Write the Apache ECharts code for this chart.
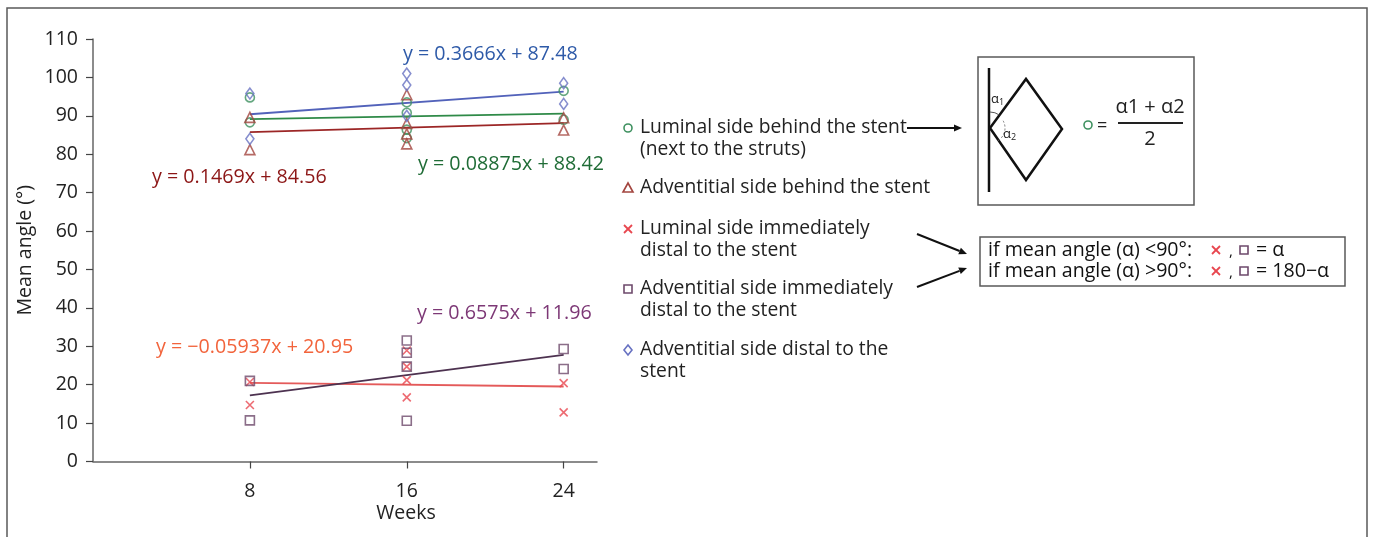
<!DOCTYPE html>
<html>
<head>
<meta charset="utf-8">
<script src="https://cdn.jsdelivr.net/npm/echarts@6/dist/echarts.min.js"></script>
<style>
html, body { margin: 0; padding: 0; background: #fff; }
#chart { width: 1376px; height: 537px; }
</style>
</head>
<body>
<div id="chart"></div>
<script>
// Weeks at which measurements were taken (x-axis ticks)
const weekTicks = [8, 16, 24];

// Mean angle (°) per measurement, as [week, value]
const luminalBehind = [[8, 94.8], [8, 88.3], [16, 93.5], [16, 90.8], [16, 86.4], [16, 84.2], [24, 96.5], [24, 89.0]];
const adventitialBehind = [[8, 89.6], [8, 81.2], [16, 95.5], [16, 88.0], [16, 85.3], [16, 82.7], [24, 89.5], [24, 86.3]];
const luminalDistal = [[8, 20.7], [8, 14.7], [16, 28.9], [16, 24.7], [16, 21.2], [16, 16.7], [24, 20.4], [24, 12.8]];
const adventitialImmDistal = [[8, 21.0], [8, 10.7], [16, 31.5], [16, 28.3], [16, 24.7], [16, 10.6], [24, 29.3], [24, 24.1]];
const adventitialDistal = [[8, 95.8], [8, 84.0], [16, 101.0], [16, 98.0], [16, 90.0], [24, 98.5], [24, 93.1]];

// Linear trend lines (y = slope * x + intercept), same order as the series
const trendSlopes = [0.08875, 0.1469, -0.05937, 0.6575, 0.3666];
const trendIntercepts = [88.42, 84.56, 20.95, 11.96, 87.48];
const trendRange = [8, 24];

const seriesNames = [
  'Luminal side behind the stent (next to the struts)',
  'Adventitial side behind the stent',
  'Luminal side immediately distal to the stent',
  'Adventitial side immediately distal to the stent',
  'Adventitial side distal to the stent'
];
const legendLines = [
  ['Luminal side behind the stent', '(next to the struts)'],
  ['Adventitial side behind the stent'],
  ['Luminal side immediately', 'distal to the stent'],
  ['Adventitial side immediately', 'distal to the stent'],
  ['Adventitial side distal to the', 'stent']
];
const seriesData = [luminalBehind, adventitialBehind, luminalDistal, adventitialImmDistal, adventitialDistal];

const FONT = '"Open Sans", "Noto Sans", sans-serif';
const markerColors = ['#3f9160', '#a3453f', '#e8464f', '#6e4a6c', '#6872c2'];
const lineColors = ['#2f8a48', '#9c2626', '#e45a5a', '#4d3250', '#5262ba'];
const eqColors = ['#1f6c36', '#8c1616', '#f2643c', '#7d3876', '#2e5aa8'];
const symbols = ['circle', 'triangle', 'path://M0,0L10,10M10,0L0,10', 'rect', 'diamond'];
const symbolSizes = [9, 10, 8, 9, [8, 11]];

function fmtNum(v) { return (v < 0 ? '\u2212' : '') + Math.abs(v); }
function eqText(i) {
  return 'y = ' + fmtNum(trendSlopes[i]) + 'x + ' + trendIntercepts[i];
}
function trendPoints(i) {
  return trendRange.map(x => [x, trendSlopes[i] * x + trendIntercepts[i]]);
}

// Hand-drawn legend / annotation glyphs
function glyph(kind, cx, cy, color) {
  const st = { stroke: color, fill: 'none', lineWidth: 1.6 };
  if (kind === 0) return { type: 'circle', shape: { cx: cx, cy: cy, r: 4 }, style: st };
  if (kind === 1) return { type: 'polygon', shape: { points: [[cx, cy - 5], [cx + 5, cy + 4], [cx - 5, cy + 4]] }, style: st };
  if (kind === 2) return { type: 'group', children: [
    { type: 'line', shape: { x1: cx - 4, y1: cy - 4, x2: cx + 4, y2: cy + 4 }, style: { stroke: color, lineWidth: 1.8 } },
    { type: 'line', shape: { x1: cx + 4, y1: cy - 4, x2: cx - 4, y2: cy + 4 }, style: { stroke: color, lineWidth: 1.8 } }
  ] };
  if (kind === 3) return { type: 'rect', shape: { x: cx - 4, y: cy - 4, width: 8, height: 8 }, style: st };
  return { type: 'polygon', shape: { points: [[cx, cy - 5], [cx + 4, cy], [cx, cy + 5], [cx - 4, cy]] }, style: st };
}

function arrow(x1, y1, x2, y2) {
  const dx = x2 - x1, dy = y2 - y1, len = Math.sqrt(dx * dx + dy * dy);
  const ux = dx / len, uy = dy / len, hl = 8, hw = 3.5;
  const bx = x2 - ux * hl, by = y2 - uy * hl;
  return { type: 'group', children: [
    { type: 'line', shape: { x1: x1, y1: y1, x2: bx, y2: by }, style: { stroke: '#111', lineWidth: 2 } },
    { type: 'polygon', shape: { points: [[x2, y2], [bx - uy * hw, by + ux * hw], [bx + uy * hw, by - ux * hw]] }, style: { fill: '#111' } }
  ] };
}

function txt(x, y, text, size, color, align, extra) {
  return Object.assign({
    type: 'text', x: x, y: y,
    style: { text: text, fontFamily: FONT, fontSize: size, fill: color || '#222', align: align || 'left', verticalAlign: 'middle' }
  }, extra || {});
}

const graphics = [];

// outer figure frame
graphics.push({ type: 'rect', shape: { x: 7, y: 8, width: 1360, height: 540 }, style: { stroke: '#5a5a5a', fill: 'none', lineWidth: 1.5 } });

// x-axis title under the 16-week tick
graphics.push(txt(406, 513, 'Weeks', 19.5, '#222', 'center'));

// regression equations
const eqPos = [[418, 164], [152, 177], [156, 347], [417, 313], [403, 54]];
for (let i = 0; i < 5; i++) {
  graphics.push(txt(eqPos[i][0], eqPos[i][1], eqText(i), 19.7, eqColors[i]));
}

// legend
const legendTop = [128, 188, 229, 289, 350];
for (let i = 0; i < 5; i++) {
  graphics.push(glyph(i, 628, legendTop[i], markerColors[i]));
  legendLines[i].forEach((line, k) => {
    graphics.push(txt(640, legendTop[i] + k * 22, line, 19.3, '#222'));
  });
}

// arrows
graphics.push(arrow(907, 128, 962, 128));
graphics.push(arrow(917, 234, 967, 254));
graphics.push(arrow(917, 287, 967, 268));

// strut angle diagram
graphics.push({ type: 'rect', shape: { x: 978, y: 57, width: 216, height: 148 }, style: { stroke: '#5a5a5a', fill: 'none', lineWidth: 1.5 } });
graphics.push({ type: 'line', shape: { x1: 989, y1: 68, x2: 989, y2: 192 }, style: { stroke: '#111', lineWidth: 2.5 } });
graphics.push({ type: 'polygon', shape: { points: [[990, 128], [1026, 79], [1062, 129], [1026, 180]] }, style: { stroke: '#111', fill: 'none', lineWidth: 2.5 } });
graphics.push({ type: 'arc', shape: { cx: 990, cy: 128, r: 16, startAngle: -Math.PI / 2, endAngle: -0.95, clockwise: true }, style: { stroke: '#555', fill: 'none', lineWidth: 1 } });
graphics.push({ type: 'arc', shape: { cx: 990, cy: 128, r: 15, startAngle: -0.5, endAngle: 1.1, clockwise: true }, style: { stroke: '#777', fill: 'none', lineWidth: 1, lineDash: [2, 2] } });
const alphaRich = { a: { fontSize: 13, fontFamily: FONT, fill: '#222' }, s: { fontSize: 9, fontFamily: FONT, fill: '#222', padding: [7, 0, 0, 0] } };
graphics.push({ type: 'text', x: 991, y: 99, style: { text: '{a|α}{s|1}', rich: alphaRich, verticalAlign: 'middle' } });
graphics.push({ type: 'text', x: 1003, y: 134, style: { text: '{a|α}{s|2}', rich: alphaRich, verticalAlign: 'middle' } });
graphics.push(glyph(0, 1088, 125, markerColors[0]));
graphics.push(txt(1097, 126, '=', 18, '#222'));
graphics.push(txt(1150, 107, 'α1 + α2', 20, '#222', 'center'));
graphics.push({ type: 'line', shape: { x1: 1118, y1: 123, x2: 1183, y2: 123 }, style: { stroke: '#222', lineWidth: 2 } });
graphics.push(txt(1150, 139, '2', 20, '#222', 'center'));

// rule box for distal measurements
graphics.push({ type: 'rect', shape: { x: 980, y: 237, width: 365, height: 49 }, style: { stroke: '#5a5a5a', fill: 'none', lineWidth: 1.5 } });
const ruleRows = [['if mean angle (α) <90°:', '= α', 250], ['if mean angle (α) >90°:', '= 180\u2212α', 271]];
ruleRows.forEach(r => {
  graphics.push(txt(988, r[2], r[0], 19.6, '#111'));
  graphics.push(glyph(2, 1216, r[2], markerColors[2]));
  graphics.push(txt(1229, r[2] + 2, ',', 15, '#111'));
  graphics.push(glyph(3, 1244, r[2], markerColors[3]));
  graphics.push(txt(1256, r[2], r[1], 19.6, '#111'));
});

const series = [];
for (let i = 0; i < 5; i++) {
  series.push({
    name: seriesNames[i],
    type: 'line',
    data: trendPoints(i),
    symbol: 'none',
    silent: true,
    lineStyle: { color: lineColors[i], width: 1.8 },
    z: 2
  });
}
for (let i = 0; i < 5; i++) {
  series.push({
    name: seriesNames[i],
    type: 'scatter',
    data: seriesData[i],
    symbol: symbols[i],
    symbolSize: symbolSizes[i],
    itemStyle: { color: 'rgba(0,0,0,0)', borderColor: markerColors[i], borderWidth: 1.6 },
    z: 3
  });
}

const chart = echarts.init(document.getElementById('chart'), null, { renderer: 'canvas' });
chart.setOption({
  animation: false,
  backgroundColor: '#fff',
  textStyle: { fontFamily: FONT },
  grid: { left: 93, top: 39, width: 504, height: 422.5, containLabel: false },
  xAxis: {
    type: 'value', min: 0, max: 25.7,
    axisLine: { show: true, onZero: false, lineStyle: { color: '#666', width: 1.5 } },
    axisTick: { show: true, customValues: weekTicks, length: 7, lineStyle: { color: '#444', width: 1.2 } },
    axisLabel: { customValues: weekTicks, margin: 20, fontSize: 19.5, color: '#222', fontFamily: FONT },
    splitLine: { show: false }
  },
  yAxis: {
    type: 'value', min: 0, max: 110, interval: 10,
    name: 'Mean angle (°)', nameLocation: 'middle', nameGap: 58,
    nameTextStyle: { fontSize: 19.5, color: '#222', fontFamily: FONT },
    axisLine: { show: true, lineStyle: { color: '#666', width: 1.5 } },
    axisTick: { show: true, length: 7, lineStyle: { color: '#444', width: 1.2 } },
    axisLabel: { margin: 15, fontSize: 19.5, color: '#222', fontFamily: FONT },
    splitLine: { show: false }
  },
  series: series,
  graphic: graphics
});
</script>
</body>
</html>
